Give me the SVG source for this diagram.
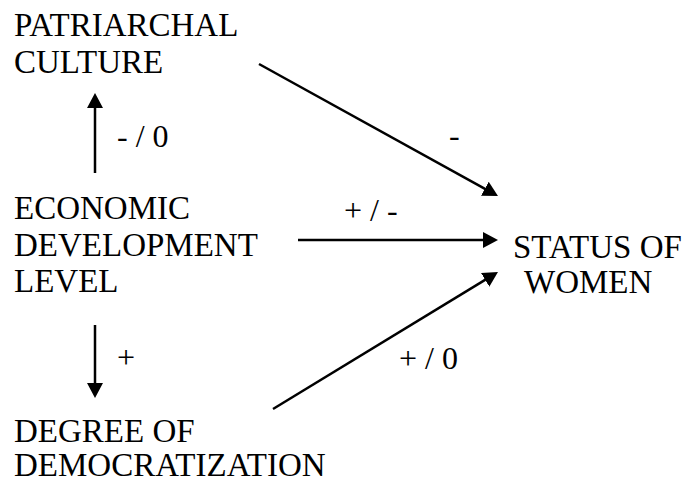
<svg xmlns="http://www.w3.org/2000/svg" width="688" height="481" viewBox="0 0 688 481">
  <style>
    .c { stroke: #000; stroke-width: 2.5; fill: none; marker-end: url(#ah); }
  </style>
  <defs>
    <marker id="ah" markerUnits="userSpaceOnUse" markerWidth="16" markerHeight="16" refX="10" refY="8" orient="auto">
      <path d="M0,0 L15,8 L0,16 Z" fill="#000"/>
    </marker>
  </defs>
  <rect width="688" height="481" fill="#fff"/>
  <g id="connectors">
    <line class="c" x1="95" y1="173" x2="95" y2="98"/>
    <line class="c" x1="95" y1="325" x2="95" y2="393"/>
    <line class="c" x1="259" y1="64" x2="493.6" y2="193.6"/>
    <line class="c" x1="298" y1="240" x2="493" y2="240"/>
    <line class="c" x1="273" y1="409" x2="493.7" y2="274.6"/>
    <text x="117" y="147" font-family="Liberation Serif" font-size="32">- / 0</text>
    <text x="449" y="146" font-family="Liberation Serif" font-size="32">-</text>
    <text x="344" y="221" font-family="Liberation Serif" font-size="32">+ / -</text>
    <text x="117" y="368" font-family="Liberation Serif" font-size="32">+</text>
    <text x="399" y="369" font-family="Liberation Serif" font-size="32">+ / 0</text>
  </g>
  <g id="patriarchal">
    <text x="14" y="36" font-family="Liberation Serif" font-size="33">PATRIARCHAL</text>
    <text x="14" y="73" font-family="Liberation Serif" font-size="33">CULTURE</text>
  </g>
  <g id="economic">
    <text x="14" y="219" font-family="Liberation Serif" font-size="33">ECONOMIC</text>
    <text x="14" y="256" font-family="Liberation Serif" font-size="33">DEVELOPMENT</text>
    <text x="14" y="292" font-family="Liberation Serif" font-size="33">LEVEL</text>
  </g>
  <g id="status">
    <text x="513" y="258" font-family="Liberation Serif" font-size="33">STATUS OF</text>
    <text x="524" y="293" font-family="Liberation Serif" font-size="33">WOMEN</text>
  </g>
  <g id="democratization">
    <text x="14" y="442" font-family="Liberation Serif" font-size="33">DEGREE OF</text>
    <text x="14" y="476" font-family="Liberation Serif" font-size="33">DEMOCRATIZATION</text>
  </g>
</svg>
